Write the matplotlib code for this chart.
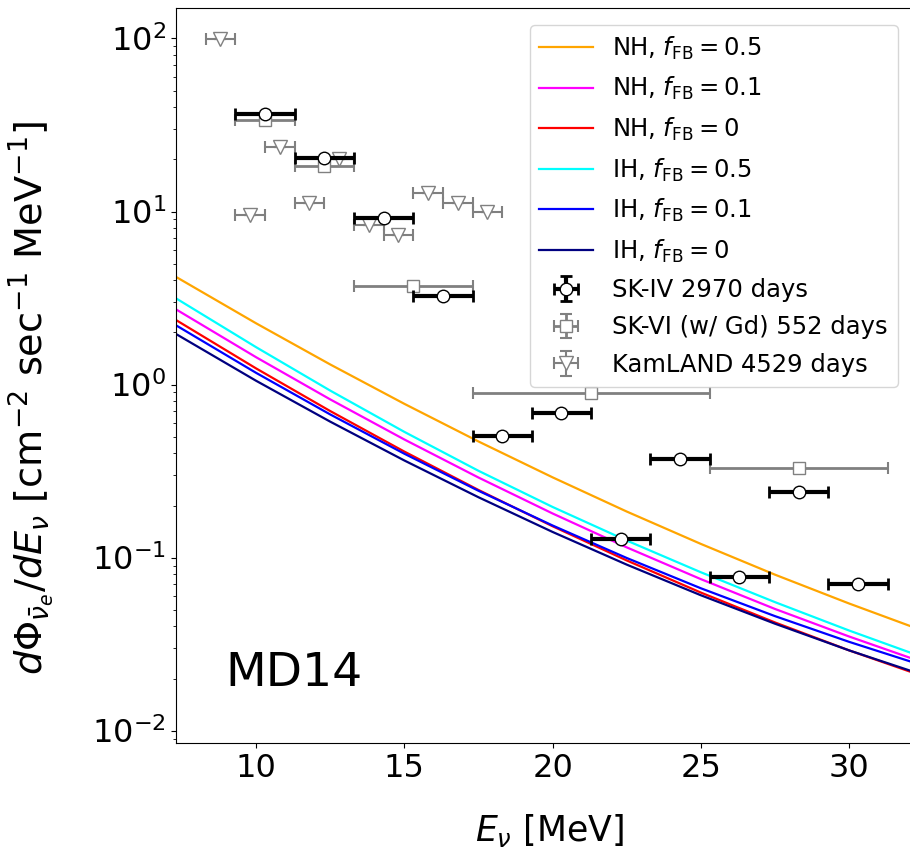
import matplotlib
matplotlib.use("Agg")
import matplotlib.pyplot as plt

# ---- model curves ----
E_curve = [7.3, 10, 12.5, 15, 17.5, 20, 22.5, 25, 27.5, 30, 32.1]
NH_05 = [4.19, 2.26, 1.307, 0.774, 0.469, 0.291, 0.1846, 0.1200, 0.0797, 0.0543, 0.0400]
NH_01 = [2.72, 1.439, 0.821, 0.4816, 0.2903, 0.1799, 0.1146, 0.0751, 0.0505, 0.0350, 0.0262]
NH_00 = [2.36, 1.240, 0.703, 0.410, 0.246, 0.1518, 0.0963, 0.0628, 0.0422, 0.0291, 0.0218]
IH_05 = [3.15, 1.645, 0.923, 0.533, 0.3175, 0.1962, 0.1255, 0.0823, 0.0553, 0.0379, 0.0281]
IH_01 = [2.20, 1.169, 0.672, 0.3985, 0.2434, 0.1533, 0.0995, 0.0665, 0.0459, 0.0326, 0.0250]
IH_00 = [1.96, 1.052, 0.6106, 0.3642, 0.2233, 0.1407, 0.0911, 0.0606, 0.0415, 0.0291, 0.0221]

# ---- data ----
skiv_E = [10.3, 12.3, 14.3, 16.3, 18.3, 20.3, 22.3, 24.3, 26.3, 28.3, 30.3]
skiv_val = [36.8, 20.5, 9.2, 3.27, 0.504, 0.682, 0.128, 0.371, 0.0776, 0.238, 0.0704]
skiv_xerr = [1.0] * 11
skiv_yerr = [0.0] * 11

skvi_E = [10.3, 12.3, 15.3, 21.3, 28.3]
skvi_val = [33.6, 18.3, 3.7, 0.889, 0.328]
skvi_xerr = [1.0, 1.0, 2.0, 4.0, 3.0]
skvi_yerr = [0.0] * 5

kl_E = [8.8, 9.8, 10.8, 11.8, 12.8, 13.8, 14.8, 15.8, 16.8, 17.8]
kl_val = [99.0, 9.57, 23.6, 11.2, 20.0, 8.41, 7.33, 12.8, 11.2, 10.0]
kl_xerr = [0.5] * 10
kl_yerr = [0.0] * 10

fig = plt.figure(figsize=(9.1, 8.48), dpi=100)
ax = fig.add_axes([176 / 910, 104.7 / 848, 747.2 / 910, 735.3 / 848])

lw = 1.6
ax.plot(E_curve, NH_05, color="orange", lw=lw, label=r"NH, $f_{\rm FB} = 0.5$")
ax.plot(E_curve, NH_01, color="magenta", lw=lw, label=r"NH, $f_{\rm FB} = 0.1$")
ax.plot(E_curve, NH_00, color="red", lw=lw, label=r"NH, $f_{\rm FB} = 0$")
ax.plot(E_curve, IH_05, color="cyan", lw=lw, label=r"IH, $f_{\rm FB} = 0.5$")
ax.plot(E_curve, IH_01, color="blue", lw=lw, label=r"IH, $f_{\rm FB} = 0.1$")
ax.plot(E_curve, IH_00, color="navy", lw=lw, label=r"IH, $f_{\rm FB} = 0$")

ax.errorbar(skiv_E, skiv_val, xerr=skiv_xerr, yerr=skiv_yerr, fmt="o", color="black",
            mfc="white", mec="black", ms=9, elinewidth=3, capsize=4, capthick=2,
            label="SK-IV 2970 days", zorder=5)
ax.errorbar(skvi_E, skvi_val, xerr=skvi_xerr, yerr=skvi_yerr, fmt="s", color="gray",
            mfc="white", mec="gray", ms=8, elinewidth=2, capsize=4, capthick=1.5,
            label="SK-VI (w/ Gd) 552 days", zorder=4)
ax.errorbar(kl_E, kl_val, xerr=kl_xerr, yerr=kl_yerr, fmt="v", color="gray",
            mfc="white", mec="gray", ms=10, elinewidth=1.5, capsize=4, capthick=1.5,
            label="KamLAND 4529 days", zorder=4)

ax.set_yscale("log")
ax.set_xlim(7.3, 32.5)
ax.set_ylim(0.00845, 150)
ax.set_xticks([10, 15, 20, 25, 30])
ax.tick_params(axis="both", which="major", labelsize=23)

ax.set_xlabel(r"$E_\nu$ [MeV]", fontsize=25, labelpad=20)
ax.set_ylabel(r"$d\Phi_{\bar{\nu}_e}/dE_\nu$ [cm$^{-2}$ sec$^{-1}$ MeV$^{-1}$]",
              fontsize=27.5)
ax.yaxis.set_label_coords(-0.16, 0.47)

ax.text(0.066, 0.078, "MD14", transform=ax.transAxes, fontsize=34, va="baseline")

ax.legend(loc="upper right", bbox_to_anchor=(897.7 / 910, (848 - 25) / 848),
          bbox_transform=fig.transFigure, borderaxespad=0, fontsize=17.5,
          handlelength=2.2, labelspacing=0.55)

fig.savefig("out.png", dpi=100)
